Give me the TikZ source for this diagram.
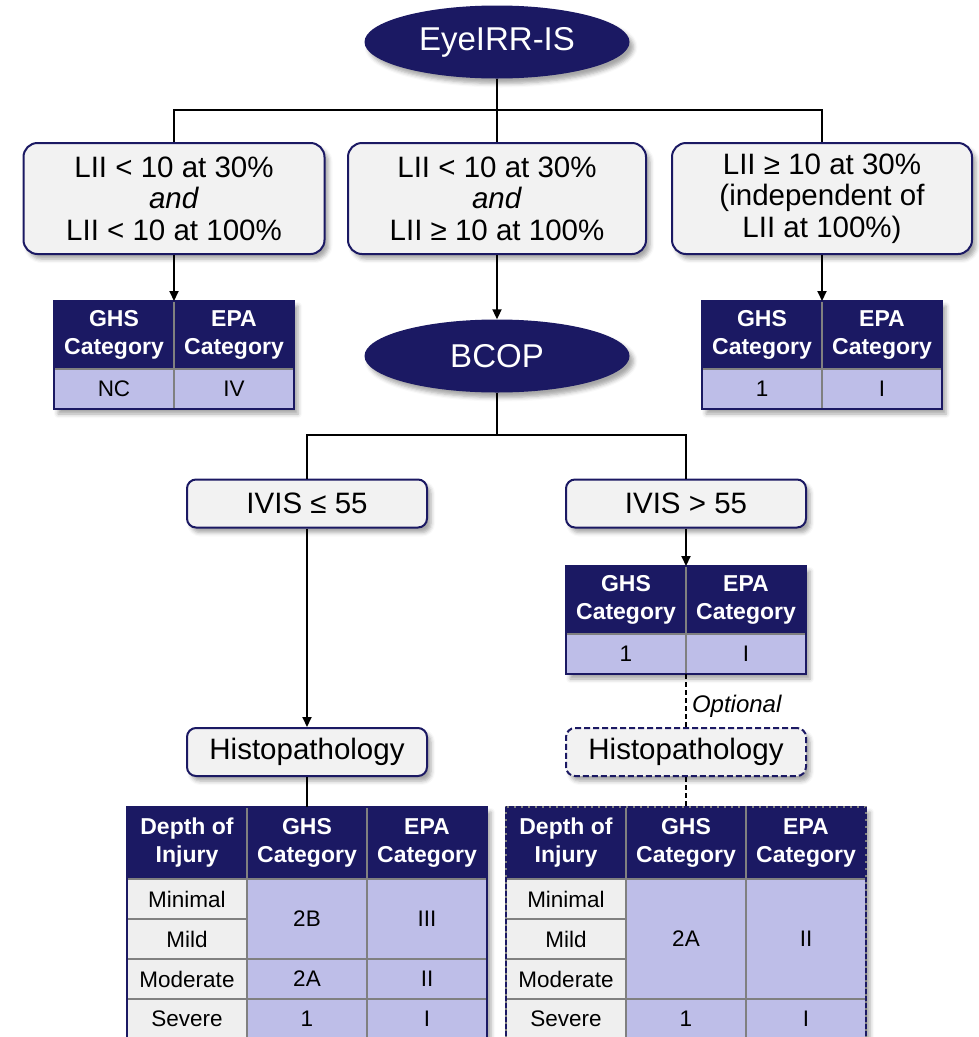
\documentclass[tikz,border=0pt]{standalone}
\usepackage{fontspec}
\setmainfont{Liberation Sans}
\usetikzlibrary{positioning, shapes.geometric, shadows.blur, arrows.meta, backgrounds}
\definecolor{navy}{RGB}{27,25,99}
\definecolor{lavender}{RGB}{190,190,232}
\definecolor{boxfill}{RGB}{242,242,242}
\definecolor{cellfill}{RGB}{239,239,239}
\definecolor{gridline}{RGB}{128,128,128}
\tikzset{
	softshadow/.style={blur shadow={shadow xshift=4pt, shadow yshift=-5pt, shadow blur radius=4pt, shadow opacity=35}},
	oval/.style={ellipse, fill=navy, text=white, minimum width=265pt, minimum height=73pt, font=\fontsize{33}{36}\selectfont, softshadow},
	cond/.style={rectangle, rounded corners=14pt, draw=navy, line width=2pt, fill=boxfill, align=center, font=\fontsize{29.5}{31.5}\selectfont, softshadow},
	condsmall/.style={cond, rounded corners=9pt, minimum width=240pt, minimum height=48pt},
	cell/.style={rectangle, draw=gridline, line width=2pt, outer sep=0pt, inner sep=0pt, minimum width=120pt, minimum height=40pt, align=center, font=\fontsize{22.5}{27}\selectfont},
	head/.style={cell, fill=navy, text=white, font=\bfseries\fontsize{23}{28}\selectfont, minimum height=68pt},
	val/.style={cell, fill=lavender},
	depth/.style={cell, fill=cellfill},
	link/.style={line width=2pt},
	arr/.style={link, -{Triangle[length=10pt, width=9pt]}},
	opt/.style={link, dash pattern=on 5pt off 3pt},
}
\begin{document}
\begin{tikzpicture}[x=1pt, y=-1pt]
		\useasboundingbox (0,0) rectangle (979,1037);
		
		\node[oval] (irr) at (497,42) {EyeIRR-IS};
		
		\node[cond, minimum width=301pt, minimum height=111pt] (c1) at (174,198.5) {LII < 10 at 30\%\\\textit{and}\\LII < 10 at 100\%};
		\node[cond, minimum width=298pt, minimum height=111pt] (c2) at (497,198.5) {LII < 10 at 30\%\\\textit{and}\\LII ≥ 10 at 100\%};
		\node[cond, minimum width=300pt, minimum height=111pt] (c3) at (822,198.5) {LII ≥ 10 at 30\%\\(independent of\\LII at 100\%)};
		\coordinate (split1) at (497,110);
		
		\node[head] (t1g) at (114,335) {GHS\\Category};
		\node[head, right=0pt of t1g] (t1e) {EPA\\Category};
		\node[val, below=0pt of t1g] (t1gv) {NC};
		\node[val, below=0pt of t1e] (t1ev) {IV};
		\draw[navy, line width=2pt] (t1g.north west) rectangle (t1ev.south east);
		
		\node[head] (t3g) at (762,335) {GHS\\Category};
		\node[head, right=0pt of t3g] (t3e) {EPA\\Category};
		\node[val, below=0pt of t3g] (t3gv) {1};
		\node[val, below=0pt of t3e] (t3ev) {I};
		\draw[navy, line width=2pt] (t3g.north west) rectangle (t3ev.south east);
		
		\node[oval] (bcop) at (497,356) {BCOP};
		\coordinate (split2) at (497,435);
		
		\node[condsmall] (iv1) at (307,503.5) {IVIS ≤ 55};
		\node[condsmall] (iv2) at (686,503.5) {IVIS > 55};
		
		\node[head] (t4g) at (626,600) {GHS\\Category};
		\node[head, right=0pt of t4g] (t4e) {EPA\\Category};
		\node[val, below=0pt of t4g] (t4gv) {1};
		\node[val, below=0pt of t4e] (t4ev) {I};
		\draw[navy, line width=2pt] (t4g.north west) rectangle (t4ev.south east);
		
		\node[condsmall] (h1) at (307,752) {Histopathology};
		\node[condsmall, dash pattern=on 6pt off 3pt] (h2) at (686,752) {Histopathology};
		
		\node[head, minimum height=72pt] (b1d) at (187,843) {Depth of\\Injury};
		\node[head, minimum height=72pt, right=0pt of b1d] (b1g) {GHS\\Category};
		\node[head, minimum height=72pt, right=0pt of b1g] (b1e) {EPA\\Category};
		\node[depth, below=0pt of b1d] (b1r1) {Minimal};
		\node[depth, below=0pt of b1r1] (b1r2) {Mild};
		\node[depth, below=0pt of b1r2] (b1r3) {Moderate};
		\node[depth, below=0pt of b1r3] (b1r4) {Severe};
		\node[val, minimum height=80pt, below=0pt of b1g] (b1g1) {2B};
		\node[val, below=0pt of b1g1] (b1g2) {2A};
		\node[val, below=0pt of b1g2] (b1g3) {1};
		\node[val, minimum height=80pt, below=0pt of b1e] (b1e1) {III};
		\node[val, below=0pt of b1e1] (b1e2) {II};
		\node[val, below=0pt of b1e2] (b1e3) {I};
		\draw[navy, line width=2pt] (b1d.north west) rectangle (b1e3.south east);
		
		\node[head, minimum height=72pt] (b2d) at (566,843) {Depth of\\Injury};
		\node[head, minimum height=72pt, right=0pt of b2d] (b2g) {GHS\\Category};
		\node[head, minimum height=72pt, right=0pt of b2g] (b2e) {EPA\\Category};
		\node[depth, below=0pt of b2d] (b2r1) {Minimal};
		\node[depth, below=0pt of b2r1] (b2r2) {Mild};
		\node[depth, below=0pt of b2r2] (b2r3) {Moderate};
		\node[depth, below=0pt of b2r3] (b2r4) {Severe};
		\node[val, minimum height=120pt, below=0pt of b2g] (b2g1) {2A};
		\node[val, below=0pt of b2g1] (b2g2) {1};
		\node[val, minimum height=120pt, below=0pt of b2e] (b2e1) {II};
		\node[val, below=0pt of b2e1] (b2e2) {I};
		\draw[navy, line width=2pt, dash pattern=on 5pt off 2pt] (b2d.north west) rectangle (b2e2.south east);
		
		\begin{scope}[on background layer]
		\path[fill=white, softshadow] (t1g.north west) rectangle (t1ev.south east);
		\path[fill=white, softshadow] (t3g.north west) rectangle (t3ev.south east);
		\path[fill=white, softshadow] (t4g.north west) rectangle (t4ev.south east);
		\path[fill=white, softshadow] (b1d.north west) rectangle (b1e3.south east);
		\path[fill=white, softshadow] (b2d.north west) rectangle (b2e2.south east);
		\end{scope}
		
		\draw[link] (irr.south) -- (c2.north);
		\draw[link] (c1.north) |- (split1) -| (c3.north);
		\draw[arr] (c1.south) -- (t1g.north east);
		\draw[arr] (c2.south) -- (bcop.north);
		\draw[arr] (c3.south) -- (t3g.north east);
		
		\draw[link] (bcop.south) -- (split2);
		\draw[link] (iv1.north) |- (split2) -| (iv2.north);
		\draw[arr] (iv1.south) -- (h1.north);
		\draw[arr] (iv2.south) -- (t4g.north east);
		\draw[link] (h1.south) -- (b1g.north);
		\draw[opt] (t4gv.south east) -- node[right, inner sep=5pt, yshift=-6pt, font=\itshape\fontsize{24}{28}\selectfont] (optlbl) {Optional} (h2.north);
		\draw[opt] (h2.south) -- (b2g.north);
		
		\end{tikzpicture}
\end{document}
